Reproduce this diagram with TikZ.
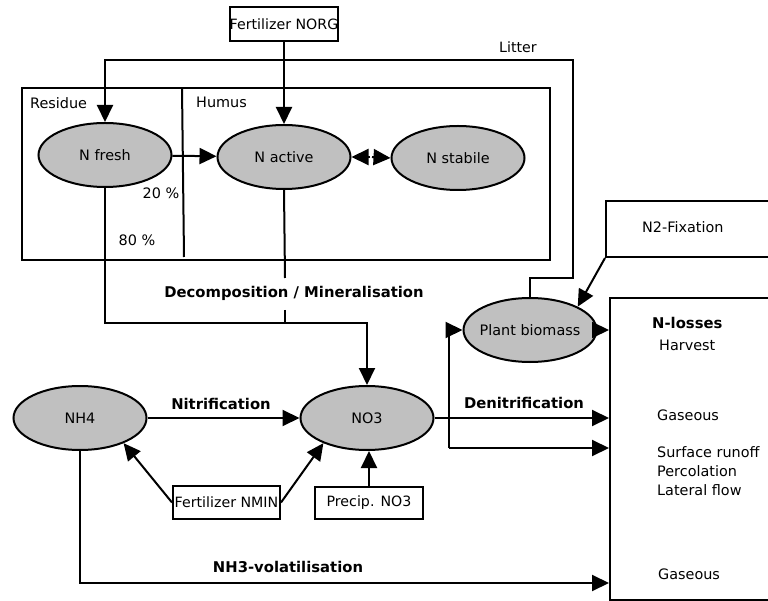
\documentclass[tikz,border=0pt]{standalone}
\usepackage{fontspec}
\setmainfont{DejaVu Sans}
\usetikzlibrary{arrows.meta,shapes.geometric}
\definecolor{ovalgray}{RGB}{192,192,192}
\begin{document}
\begin{tikzpicture}[x=1pt,y=-1pt,
  every node/.style={font=\fontsize{14.4}{17}\selectfont},
  plain/.style={line width=2pt},
  conn/.style={line width=2pt,-{Triangle[length=17pt,width=16pt]}},
  oval/.style={ellipse,draw,line width=2pt,fill=ovalgray,minimum width=133pt,minimum height=64pt,inner sep=-20pt},
  box/.style={rectangle,draw,line width=2pt,fill=white,inner sep=0pt,font=\fontsize{14.2}{16}\selectfont},
  lbl/.style={inner sep=0pt},
  blbl/.style={inner sep=0pt,font=\fontsize{14.8}{17}\selectfont\bfseries}]
\useasboundingbox (0,0) rectangle (768,601);
\fill[white] (0,0) rectangle (768,601);

% soil box
\node[box,fill=none,minimum width=528pt,minimum height=172pt] (soil) at (286,174) {};
\draw[plain] (182,88) -- (184,257);
\node[lbl,anchor=west] (residue) at (30,103) {Residue};
\node[lbl,anchor=west] (humus) at (196,102) {Humus};

% top box
\node[box,minimum width=108pt,minimum height=34pt] (norg) at (284,24) {Fertilizer NORG};
\node[lbl,font=\fontsize{14.2}{16}\selectfont] (litter) at (518,47) {Litter};

% ovals
\node[oval] (nfresh) at (105,155) {N fresh};
\node[oval] (nactive) at (284,157) {N active};
\node[oval] (nstabile) at (458,158) {N stabile};
\node[oval] (plant) at (530,330) {Plant biomass};
\node[oval] (nh4) at (80,418) {NH4};
\node[oval] (no3) at (367,418) {NO3};

\node[lbl] (p20) at (161,193) {20 \%};
\node[lbl] (p80) at (137,240) {80 \%};

% lower boxes
\node[box,minimum width=107pt,minimum height=33pt] (nmin) at (226.5,502.5) {Fertilizer NMIN};
\node[box,minimum width=108pt,minimum height=32pt] (precip) at (369,503) {Precip. NO3};

% right boxes
\node[box,fill=none,anchor=north west,minimum width=220pt,minimum height=56pt] (n2fix) at (605,200) {};
\node[lbl,anchor=west] (n2txt) at (642,227) {N2-Fixation};
\node[box,fill=none,anchor=north west,minimum width=220pt,minimum height=302pt] (losses) at (609,297) {};
\node[blbl,anchor=west] (nl) at (652,323) {N-losses};
\node[lbl,anchor=west] (harvest) at (659,345) {Harvest};
\node[lbl,anchor=west] (gas1) at (657,415) {Gaseous};
\node[lbl,anchor=west] (surf) at (657,452) {Surface runoff};
\node[lbl,anchor=west] (perc) at (657,471) {Percolation};
\node[lbl,anchor=west] (lat) at (657,490) {Lateral flow};
\node[lbl,anchor=west] (gas2) at (658,574) {Gaseous};

% bold process labels
\node[blbl] (decomp) at (294,293) {Decomposition / Mineralisation};
\node[blbl] (nitri) at (221,404) {Nitrification};
\node[blbl] (denitri) at (524,403) {Denitrification};
\node[blbl] (volat) at (288,567) {NH3-volatilisation};

% coordinates
\coordinate (lt1) at (573,278);
\coordinate (lt2) at (573,60);
\coordinate (dl) at (370,157);
\coordinate (dr) at (372,157);
\coordinate (d1) at (285,278);
\coordinate (d2) at (285,310);
\coordinate (j) at (285,323);
\coordinate (k) at (449,448);
\coordinate (vb) at (0,583);

% connectors
\draw[conn] (norg) -- (nactive);
\draw[conn] (plant.north) |- (lt1) -- (lt2) -| (nfresh.north);
\draw[conn] (nfresh) -- (nactive);
\draw[conn] (dl) -- (nactive.east);
\draw[conn] (dr) -- (nstabile.west);
\draw[plain] (nactive.south) -- (d1);
\draw[plain] (d2) -- (j);
\draw[conn] (nfresh.south) |- (j) -| (no3.north);
\draw[conn] (nh4) -- (no3);
\draw[conn] (nmin.west) -- (nh4.-30);
\draw[conn] (nmin.east) -- (no3.210);
\draw[conn] (precip.north) -- (precip.north |- no3.south);
\draw[conn] (no3.east) -- (no3.east -| losses.west);
\draw[conn] (k) |- (plant.west);
\draw[conn] (k) -- (k -| losses.west);
\draw[conn] (plant.east) -- (plant.east -| losses.west);
\draw[conn] (n2fix.south west) -- (plant.north east);
\draw[conn] (nh4.south) |- (vb -| losses.west);
\end{tikzpicture}
\end{document}
